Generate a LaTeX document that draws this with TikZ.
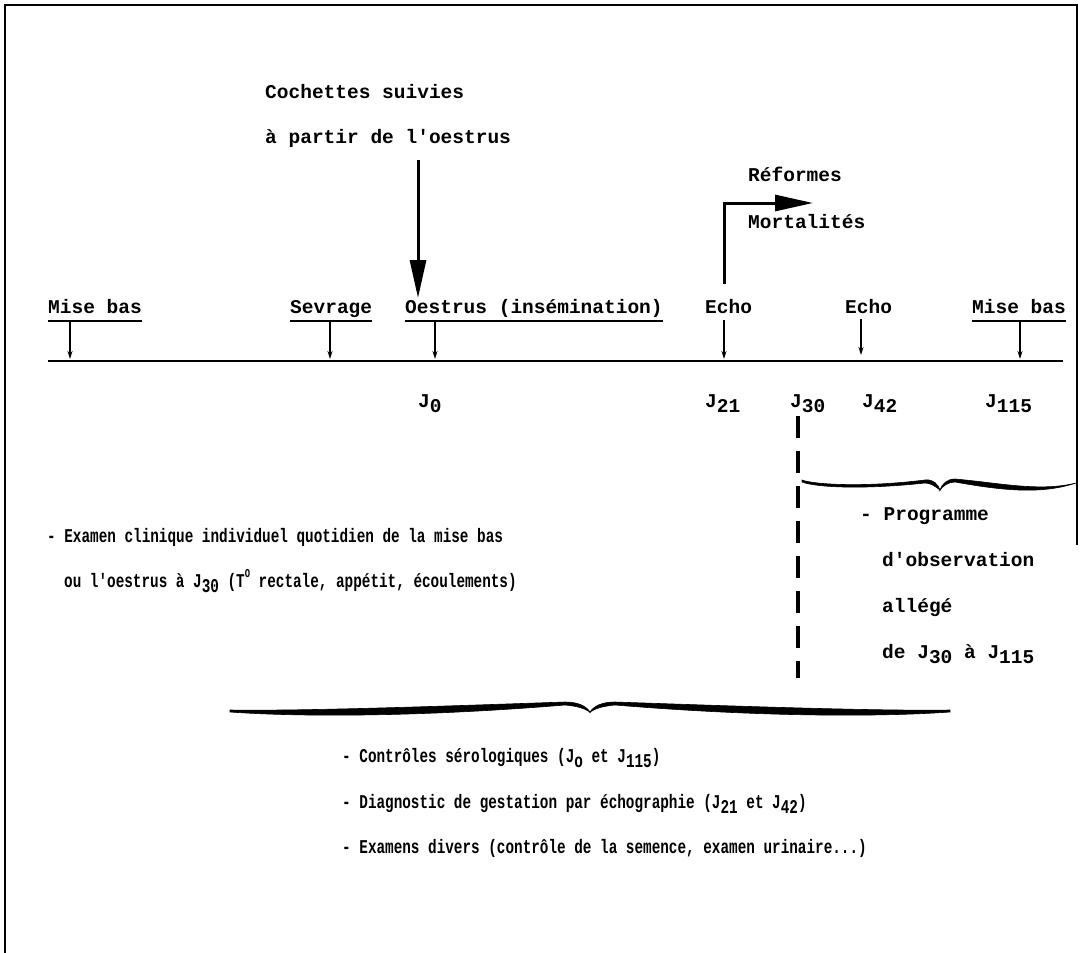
\documentclass[tikz,border=0pt]{standalone}
\usepackage{fontspec}
\newfontfamily\nartt[FakeStretch=0.735]{Liberation Mono}
\newfontfamily\widett{Liberation Mono}
\usetikzlibrary{arrows.meta,calc}
\newcommand\Jn[1]{J\raisebox{-0.3em}{#1}}
\newcommand\supO{\raisebox{0.5em}{\fontsize{12}{12}\selectfont O}}
\tikzset{
  wide/.style={inner sep=0pt, anchor=base west, font=\widett\bfseries\fontsize{19.5}{22}\selectfont},
  narrow/.style={inner sep=0pt, anchor=base west, font=\nartt\bfseries\fontsize{19.5}{22}\selectfont},
  smallarrow/.style={line width=1.2pt, -{Stealth[length=8pt,width=5pt]}},
  bigarrow/.style={line width=3pt, -{Triangle[length=38pt,width=16pt]}},
  frame/.style={line width=2pt},
  uline/.style={line width=1.6pt},
  timeline/.style={line width=1.6pt},
  jdash/.style={line width=3.2pt, dash pattern=on 22pt off 13pt},
  bracefill/.style={fill=black, draw=black, line width=0.6pt}
}
\begin{document}
\begin{tikzpicture}[x=1pt,y=-1pt]
\useasboundingbox (0,0) rectangle (1082,953);
% frame
\draw[frame] (5,953) -- (5,5) -- (1077,5) -- (1077,545);

% top texts
\node[wide] (coch) at (265,98) {Cochettes suivies};
\node[wide] (apartir) at (265,143) {à partir de l'oestrus};
\node[wide] (ref) at (748,181) {Réformes};
\node[wide] (mort) at (748,228) {Mortalités};

% labels row
\node[wide] (mb1) at (48,313) {Mise bas};
\node[wide] (sev) at (290,313) {Sevrage};
\node[wide] (oes) at (405,313) {Oestrus (insémination)};
\node[wide] (echo1) at (705,313) {Echo};
\node[wide] (echo2) at (845,313) {Echo};
\node[wide] (mb2) at (972,313) {Mise bas};

% underlines
\draw[uline] ([yshift=-8pt]mb1.base west) -- ([yshift=-8pt]mb1.base east);
\draw[uline] ([yshift=-8pt]sev.base west) -- ([yshift=-8pt]sev.base east);
\draw[uline] ([yshift=-8pt]oes.base west) -- ([yshift=-8pt]oes.base east);
\draw[uline] ([yshift=-8pt]mb2.base west) -- ([yshift=-8pt]mb2.base east);

% timeline
\coordinate (tl0) at (48,361);
\coordinate (tl1) at (1063,361);
\draw[timeline] (tl0) -- (tl1);

% small arrows
\coordinate (a1s) at (70,322);   \coordinate (a1e) at (70,359);
\coordinate (a2s) at (330,322);  \coordinate (a2e) at (330,359);
\coordinate (a3s) at (435,322);  \coordinate (a3e) at (435,359);
\coordinate (a4s) at (724,320);  \coordinate (a4e) at (724,359);
\coordinate (a5s) at (861,319);  \coordinate (a5e) at (861,355);
\coordinate (a6s) at (1020,322); \coordinate (a6e) at (1020,359);
\draw[smallarrow] (a1s) -- (a1e);
\draw[smallarrow] (a2s) -- (a2e);
\draw[smallarrow] (a3s) -- (a3e);
\draw[smallarrow] (a4s) -- (a4e);
\draw[smallarrow] (a5s) -- (a5e);
\draw[smallarrow] (a6s) -- (a6e);

% big arrows
\coordinate (bigtop) at (418,160);
\coordinate (bigend) at (418,298);
\draw[bigarrow] (bigtop) -- (bigend);
\coordinate (bentstart) at (724,284);
\coordinate (bentcorner) at (724,203);
\coordinate (bentend) at (813,203);
\draw[bigarrow, line join=miter] (bentstart) -- (bentcorner) -- (bentend);

% J labels
\node[wide] (j0) at (418,407) {\Jn{0}};
\node[wide] (j21) at (705,407) {\Jn{21}};
\node[wide] (j30) at (790,407) {\Jn{30}};
\node[wide] (j42) at (862,407) {\Jn{42}};
\node[wide] (j115) at (985,407) {\Jn{115}};

% dashed J30 line
\coordinate (dtop) at (798,416);
\coordinate (dbot) at (798,678);
\draw[jdash] (dtop) -- (dbot);

% left text
\node[narrow] (ex1) at (47,542) {- Examen clinique individuel quotidien de la mise bas};
\node[narrow] (ex2) at (64,587) {ou l'oestrus à \Jn{30} (T\supO{} rectale, appétit, écoulements)};

% right column
\node[wide] (prog1) at (860,520) {- Programme};
\node[wide] (prog2) at (882,566) {d'observation};
\node[wide] (prog3) at (882,612) {allégé};
\node[wide] (prog4) at (882,658) {de \Jn{30} à \Jn{115}};

% small brace (right)
\fill[bracefill] (802,480) .. controls (812,484) and (860,488) .. (925,480)
  .. controls (933,479) and (938,484) .. (940,490)
  .. controls (935,486) and (930,483) .. (925,483)
  .. controls (860,490) and (815,487) .. (802,482) -- cycle;
\fill[bracefill] (940,490) .. controls (942,484) and (947,479) .. (955,479)
  .. controls (1000,483) and (1040,492) .. (1076,483)
  .. controls (1040,495) and (1000,490) .. (955,482)
  .. controls (948,482) and (943,486) .. (940,490) -- cycle;

% big brace
\fill[bracefill] (230,710) .. controls (300,711) and (420,707) .. (565,702)
  .. controls (578,702) and (586,706) .. (590,712)
  .. controls (584,708) and (576,706) .. (565,705)
  .. controls (420,717) and (300,717) .. (230,712) -- cycle;
\fill[bracefill] (950,710) .. controls (880,711) and (760,707) .. (615,702)
  .. controls (602,702) and (594,706) .. (590,712)
  .. controls (596,708) and (604,706) .. (615,705)
  .. controls (760,717) and (880,717) .. (950,712) -- cycle;

% bottom text
\node[narrow] (c1) at (342,762) {- Contrôles sérologiques (\Jn{o} et \Jn{115})};
\node[narrow] (c2) at (342,808) {- Diagnostic de gestation par échographie (\Jn{21} et \Jn{42})};
\node[narrow] (c3) at (342,853) {- Examens divers (contrôle de la semence, examen urinaire...)};
\end{tikzpicture}
\end{document}
